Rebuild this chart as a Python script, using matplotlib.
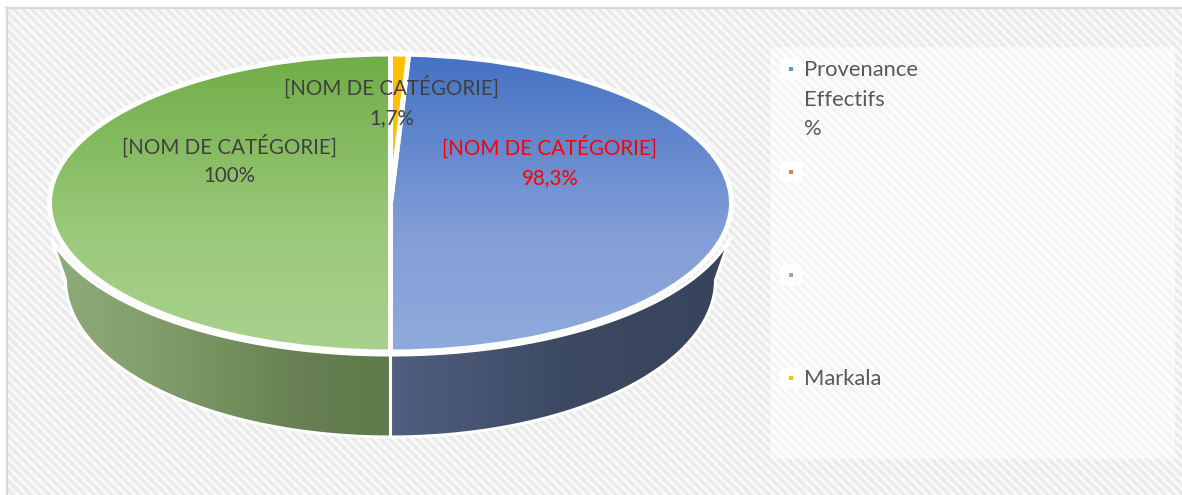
import numpy as np
import matplotlib
matplotlib.use("Agg")
import matplotlib.pyplot as plt
from matplotlib.colors import LinearSegmentedColormap
from matplotlib.patches import Polygon, FancyBboxPatch

plt.rcParams['font.family'] = ['Lato', 'DejaVu Sans']

# ---- data ----
slice_names = ["[NOM DE CATÉGORIE]", "[NOM DE CATÉGORIE]", "[NOM DE CATÉGORIE]"]
slice_values = [98.3, 100, 1.7]
slice_texts = ["98,3%", "100%", "1,7%"]
legend_labels = ["Provenance\nEffectifs\n%", "", "", "Markala"]
legend_colors = ["#5B9BD5", "#ED7D31", "#A5A5A5", "#FFC000"]

W, H = 1182, 495
fig = plt.figure(figsize=(W / 100, H / 100), dpi=100, facecolor="white")
bg = fig.add_axes([0, 0, 1, 1])
bg.set_xlim(0, W)
bg.set_ylim(H, 0)
bg.axis("off")

# hatched background texture with faint tile seams
yy, xx = np.mgrid[0:H, 0:W]
stripes = 0.5 + 0.5 * np.cos(2 * np.pi * (xx - yy) / 9.0)
tex = 0.905 + 0.075 * stripes
inner = (xx >= 770) & (xx < 1175) & (yy >= 47) & (yy < 459)
tex[inner] = 0.95 + 0.045 * stripes[inner]
seam = (np.round((xx - 37) % 85.5) == 0) | (np.round((yy - 50) % 85.5) == 0)
tex = np.minimum(tex + 0.015 * seam, 1.0)
tex[(xx < 6) | (yy < 8)] = 1.0
bg.imshow(tex, cmap="gray", vmin=0, vmax=1, extent=(0, W, H, 0), aspect="auto",
          interpolation="bilinear", zorder=0)
bg.plot([6.5, 6.5], [8, H], color="#d9d9d9", lw=1.6, zorder=1)
bg.plot([6, W], [8, 8], color="#d9d9d9", lw=1.6, zorder=1)

# geometry of the tilted pie: top ellipse and smaller (perspective) bottom ellipse
cx, cy, rx, ry = 390.5, 203, 341, 149
bx, by, brx, bry = 390.5, 280, 325, 157
tip = 13.5  # degrees below horizontal where the wall leaves the top face
shares = np.array(slice_values) / sum(slice_values)
start = 90 - 360 * slice_values[2] / sum(slice_values)

def wall(a0, a1, b0, b1):
    t = np.radians(np.linspace(a0, a1, 120))
    u = np.radians(np.linspace(b1, b0, 120))
    top_edge = np.c_[cx + (rx + 8) * np.cos(t), cy - (ry + 3) * np.sin(t)]
    low_edge = np.c_[bx + brx * np.cos(u), by - bry * np.sin(u)]
    return np.r_[top_edge, low_edge]

blue_end = -90
walls = [
    (wall(-tip, blue_end, 0, blue_end), ["#505F80", "#475472", "#3D4A63", "#3A465E", "#38445C"]),
    (wall(blue_end, -180 + tip, blue_end, -180), ["#8FAB78", "#84A06E", "#75915F", "#677F52", "#5F7A4B"]),
]
for pts, cols in walls:
    poly = Polygon(pts, closed=True, facecolor="none", edgecolor="white", lw=2.2,
                   zorder=3, joinstyle="round")
    bg.add_patch(poly)
    x0, x1 = pts[:, 0].min(), pts[:, 0].max()
    cmap = LinearSegmentedColormap.from_list("w", cols)
    im = bg.imshow(np.linspace(0, 1, 256)[None, :], cmap=cmap, aspect="auto",
                   extent=(x0, x1, pts[:, 1].max(), pts[:, 1].min()), zorder=2)
    im.set_clip_path(poly)
bg.set_xlim(0, W)
bg.set_ylim(H, 0)

# top face of the pie
pie_ax = fig.add_axes([(cx - rx) / W, 1 - (cy + ry) / H, 2 * rx / W, 2 * ry / H])
pie_ax.patch.set_alpha(0)
wedges, _ = pie_ax.pie(slice_values, startangle=start, counterclock=False, radius=1,
                       wedgeprops=dict(facecolor="none", edgecolor="white", linewidth=3.6))
gradients = [[(0, "#4472C4"), (0.62, "#849FD8"), (1, "#8FAADC")],
             [(0, "#70AD47"), (0.62, "#9CCA7C"), (1, "#A9D18E")],
             [(0, "#FFC000"), (1, "#FFC000")]]
for w, stops in zip(wedges, gradients):
    w.set_clip_on(False)
    w.set_zorder(3)
    cmap = LinearSegmentedColormap.from_list("g", stops)
    im = pie_ax.imshow(np.linspace(0, 1, 256)[:, None], cmap=cmap, aspect="auto",
                       extent=(-1, 1, -1, 1), origin="upper", zorder=2)
    im.set_clip_path(w)
pie_ax.set_aspect("auto")
pie_ax.set_xlim(-1, 1)
pie_ax.set_ylim(-1, 1)
pie_ax.axis("off")

# text overlay
top = fig.add_axes([0, 0, 1, 1])
top.set_xlim(0, W)
top.set_ylim(H, 0)
top.axis("off")
top.patch.set_alpha(0)
fs = 14.8
label_pos = [(550, 147, 178, "#FF0000"), (229, 146, 176.5, "#404040"), (392, 87, 118, "#404040")]
for name, val, (x, y1, y2, c) in zip(slice_names, slice_texts, label_pos):
    top.text(x, y1, name, ha="center", va="center", fontsize=fs, color=c)
    top.text(x, y2, val, ha="center", va="center", fontsize=fs, color=c)

# legend
leg_y = [69, 172, 275, 378]
for lab, c, y in zip(legend_labels, legend_colors, leg_y):
    top.add_patch(FancyBboxPatch((780, y - 10.5), 22, 21, boxstyle="round,pad=0,rounding_size=4",
                                 facecolor="white", edgecolor="none"))
    top.scatter([791], [y], marker="s", s=9, color=c, linewidths=0, zorder=3)
    for i, line in enumerate(lab.split("\n")):
        top.text(804, y + 1.0 + i * 29.5, line, ha="left", va="center", fontsize=15.8, color="#595959")

fig.savefig("out.png", dpi=100)
